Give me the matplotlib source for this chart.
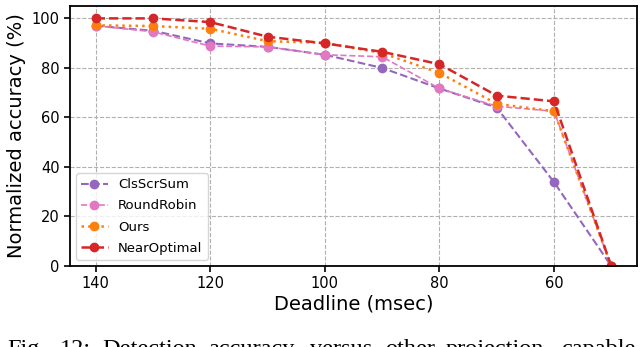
import numpy as np
import matplotlib
matplotlib.use("Agg")
import matplotlib.pyplot as plt

deadlines = [140, 130, 120, 110, 100, 90, 80, 70, 60, 50]

cls_scr_sum = [97.0, 95.0, 89.9, 88.5, 85.3, 80.0, 71.7, 64.0, 33.9, 0.0]
round_robin = [97.0, 94.6, 88.8, 88.5, 85.3, 84.5, 71.7, 64.5, 62.5, 0.0]
ours = [97.2, 96.9, 95.8, 90.8, 90.1, 86.0, 78.0, 65.5, 62.5, 0.0]
near_optimal = [100.0, 100.0, 98.5, 92.6, 89.9, 86.5, 81.5, 68.8, 66.5, 0.0]

caption_words = ["Fig.", "12:", "Detection", "accuracy", "versus", "other", "projection", "capable"]

fig = plt.figure(figsize=(6.4, 3.47), dpi=100)
ax = fig.add_axes([70 / 640, 1 - 266 / 347, 567 / 640, 260 / 347])

ax.plot(deadlines, cls_scr_sum, "--", marker="o", color="tab:purple", lw=1.5, ms=6, label="ClsScrSum")
ax.plot(deadlines, round_robin, "--", marker="o", color="tab:pink", lw=1.2, ms=6, label="RoundRobin")
ax.plot(deadlines, ours, ":", marker="o", color="tab:orange", lw=1.8, ms=6, label="Ours")
ax.plot(deadlines, near_optimal, "--", marker="o", color="tab:red", lw=1.8, ms=6, label="NearOptimal")

ax.set_xlim(144.5, 45.5)
ax.set_ylim(0, 105)
ax.set_xticks([140, 120, 100, 80, 60])
ax.set_yticks([0, 20, 40, 60, 80, 100])
ax.tick_params(labelsize=10.5, width=1.2, length=4)
ax.grid(True, linestyle="--", color="#b0b0b0", linewidth=0.8)
for s in ax.spines.values():
    s.set_linewidth(1.3)

ax.set_xlabel("Deadline (msec)", fontsize=14, labelpad=2)
ax.set_ylabel("Normalized accuracy (%)", fontsize=14, labelpad=4)
ax.legend(loc="lower left", fontsize=9.5, handlelength=2.0, labelspacing=0.62,
          borderaxespad=0.45)

# justified caption line, cut off by the bottom edge like in the source
word_x = [7, 60, 102, 208, 310, 385, 446, 561]
for w, x in zip(caption_words, word_x):
    fig.text(x / 640, (347 - 355) / 347, w, family="Liberation Serif",
             fontsize=17.5, ha="left", va="baseline")

fig.savefig("out.png", dpi=100)
